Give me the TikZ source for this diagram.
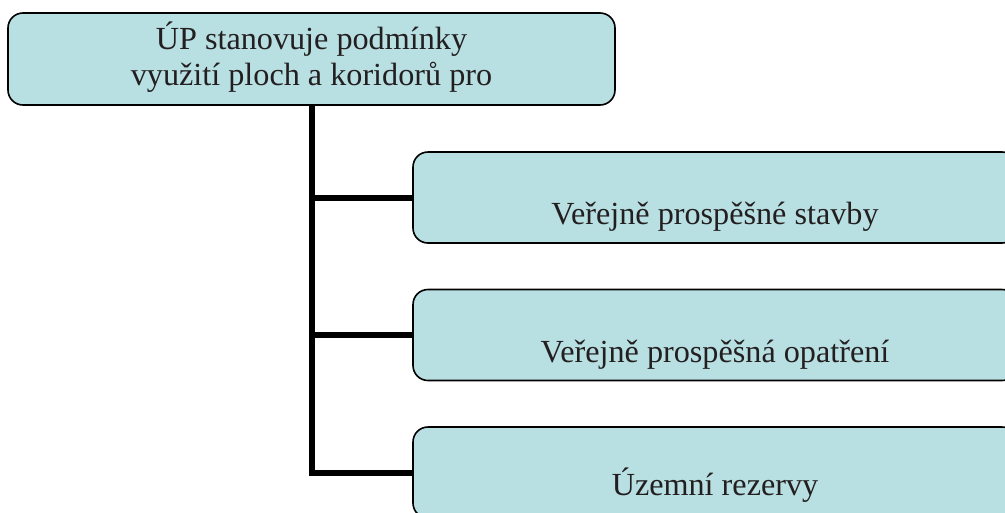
\documentclass[tikz,border=0pt]{standalone}
\usepackage{fontspec}
\setmainfont{Liberation Serif}
\definecolor{boxfill}{HTML}{B8DFE2}
\definecolor{txt}{HTML}{231F20}
\begin{document}
\begin{tikzpicture}[x=1pt,y=-1pt,
  box/.style={draw=black, line width=1.6pt, fill=boxfill, rounded corners=15pt, inner sep=0pt},
  lbl/.style={anchor=base, inner sep=0pt, text=txt, font=\fontsize{32.2}{36}\selectfont},
  conn/.style={line width=6pt, black}]
\useasboundingbox (0,0) rectangle (1005,512);
\node[box, minimum width=607pt, minimum height=92pt] (top) at (311.5,59) {};
\node[box, minimum width=604pt, minimum height=91pt] (b1) at (715,197.5) {};
\node[box, minimum width=604pt, minimum height=91pt] (b2) at (715,335) {};
\node[box, minimum width=604pt, minimum height=91pt] (b3) at (715,472.5) {};
\node[lbl] (t1) at (311.5,49) {ÚP stanovuje podmínky};
\node[lbl] (t2) at (311.5,85) {využití ploch a koridorů pro};
\node[lbl] (l1) at (715,224) {Veřejně prospěšné stavby};
\node[lbl] (l2) at (715,362) {Veřejně prospěšná opatření};
\node[lbl] (l3) at (715,495) {Územní rezervy};
\coordinate (trunk) at ([yshift=0.8pt]top.south);
\draw[conn] (trunk) -- (trunk |- b3.west) -- (b3.west);
\draw[conn] (trunk |- b1.west) -- (b1.west);
\draw[conn] (trunk |- b2.west) -- (b2.west);
\end{tikzpicture}
\end{document}
